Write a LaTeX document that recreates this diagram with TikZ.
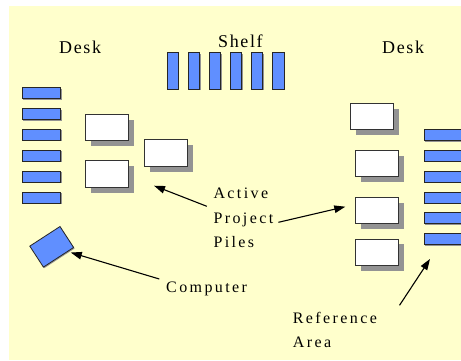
\documentclass[tikz,border=0pt]{standalone}
\usepackage{fontspec}
\setmainfont{Liberation Serif}
\newfontfamily\titlefont[LetterSpace=9]{Liberation Serif}
\newfontfamily\labelfont[LetterSpace=15]{Liberation Serif}
\usetikzlibrary{arrows.meta,shadows}

\definecolor{deskyellow}{HTML}{FFFFCC}
\definecolor{fileblue}{HTML}{608FFF}
\definecolor{shadowgray}{HTML}{939393}

\begin{document}
\begin{tikzpicture}[
        x=1pt, y=-1pt,
        book/.style={draw=black!85, fill=fileblue, line width=0.8pt, inner sep=0pt,
          drop shadow={shadow xshift=1pt, shadow yshift=-1pt, fill=shadowgray, opacity=1}},
        flatbook/.style={book, minimum width=38.5pt, minimum height=11pt},
        upbook/.style={book, minimum width=11.2pt, minimum height=36.5pt},
        pile/.style={draw=black!80, fill=white, line width=0.9pt, inner sep=0pt,
          minimum width=43pt, minimum height=26.5pt,
          drop shadow={shadow xshift=5.5pt, shadow yshift=-5.5pt, fill=shadowgray, opacity=1}},
        title/.style={font=\titlefont\fontsize{18}{22}\selectfont, inner sep=0pt, anchor=base west},
        lbl/.style={font=\labelfont\fontsize{16}{24}\selectfont, inner sep=0pt, anchor=base west},
        arr/.style={-{Triangle[length=11pt,width=7.5pt]}, line width=1.1pt},
      ]

      \useasboundingbox (0,0) rectangle (461,360);
      \clip (0,0) rectangle (461,360);
      \fill[deskyellow] (9,6) rectangle (461,360);

      % desks and shelf
      \node[title] (deskL) at (59,53.3) {Desk};
      \node[title] (shelf) at (218,47.7) {Shelf};
      \node[title] (deskR) at (382,53.3) {Desk};

      \foreach \i in {0,...,5} {
        \node[flatbook] (lbook\i) at (41.5,93.2+20.85*\i) {};
        \node[flatbook] (rbook\i) at (443.5,135+20.8*\i) {};
        \node[upbook] (sbook\i) at (172.8+21.1*\i,70.8) {};
      }

      % piles
      \node[pile] (pileA) at (107.3,127.3) {};
      \node[pile] (pileB) at (107.3,173.8) {};
      \node[pile] (pileC) at (165.5,152.8) {};
      \node[pile] (pileD) at (371.8,116.6) {};
      \node[pile] (pileE) at (377,163.3) {};
      \node[pile] (pileF) at (377,210.5) {};
      \node[pile] (pileG) at (377,252.2) {};

      \node[book, minimum width=36pt, minimum height=25pt, rotate=33] (pc) at (51.7,246.8) {};

      % labels
      \node[lbl] (active) at (213.3,198.7) {Active};
      \node[lbl] (project) at (213.3,223) {Project};
      \node[lbl] (piles) at (213.3,247.4) {Piles};
      \node[lbl] (computer) at (166,292) {Computer};
      \node[lbl] (reference) at (292.7,323) {Reference};
      \node[lbl] (area) at (292.7,347.7) {Area};

      \coordinate (pilesL) at (154,185.7);
      \coordinate (pilesR) at (345.3,206.7);
      \coordinate (refarea) at (430,259);

      \draw[arr] ([shift={(-6.5,7.6)}]active.base west) -- (pilesL);
      \draw[arr] ([shift={(5,-0.7)}]project.base east) -- (pilesR);
      \draw[arr, shorten >=3pt] ([shift={(-6.7,-13)}]computer.base west) -- (pc);
      \draw[arr] ([shift={(22.4,-17.7)}]reference.base east) -- (refarea);

    \end{tikzpicture}
\end{document}
